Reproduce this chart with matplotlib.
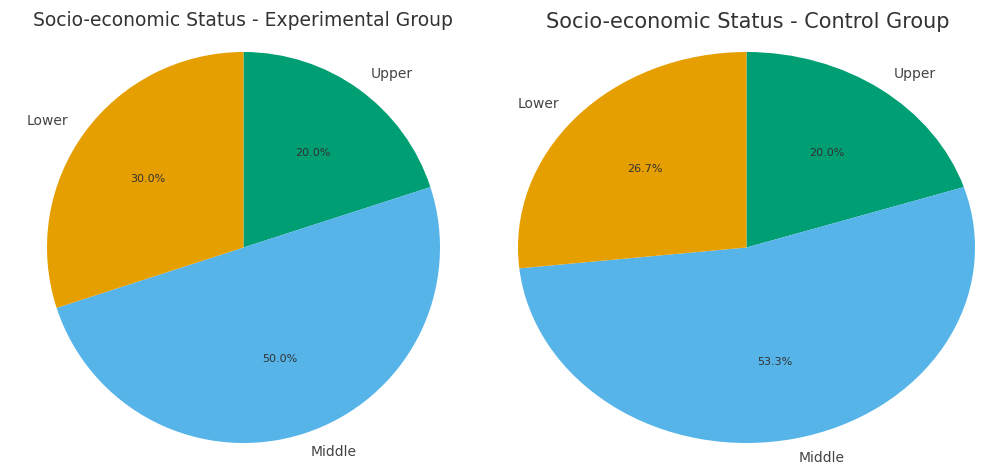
import matplotlib.pyplot as plt

categories = ["Upper", "Middle", "Lower"]
exp_values = [20.0, 50.0, 30.0]
ctrl_values = [20.0, 53.3, 26.7]
colors = ["#009E73", "#56B4E9", "#E69F00"]

W, H = 987, 473
fig = plt.figure(figsize=(W / 100, H / 100), dpi=100)

# pies are drawn with independent x/y scaling, as in the reference
ax1 = fig.add_axes([47 / W, 30 / H, 393 / W, 391 / H])
ax2 = fig.add_axes([518 / W, 30 / H, 457 / W, 391 / H])

for ax, vals in [(ax1, exp_values), (ax2, ctrl_values)]:
    wedges, texts, autotexts = ax.pie(
        vals, labels=categories, colors=colors, startangle=90,
        counterclock=False, autopct='%1.1f%%',
        textprops={'fontsize': 10, 'color': '#444444'})
    for t in autotexts:
        t.set_fontsize(8)
        t.set_color('#333333')
    ax.set_aspect('auto')
    ax.set_xlim(-1, 1)
    ax.set_ylim(-1, 1)

fig.text(243 / W, 1 - 20 / H, 'Socio-economic Status - Experimental Group',
         ha='center', va='center', fontsize=13.5, color='#333333')
fig.text(748 / W, 1 - 22 / H, 'Socio-economic Status - Control Group',
         ha='center', va='center', fontsize=15, color='#333333')

plt.savefig('out.png', dpi=100)
